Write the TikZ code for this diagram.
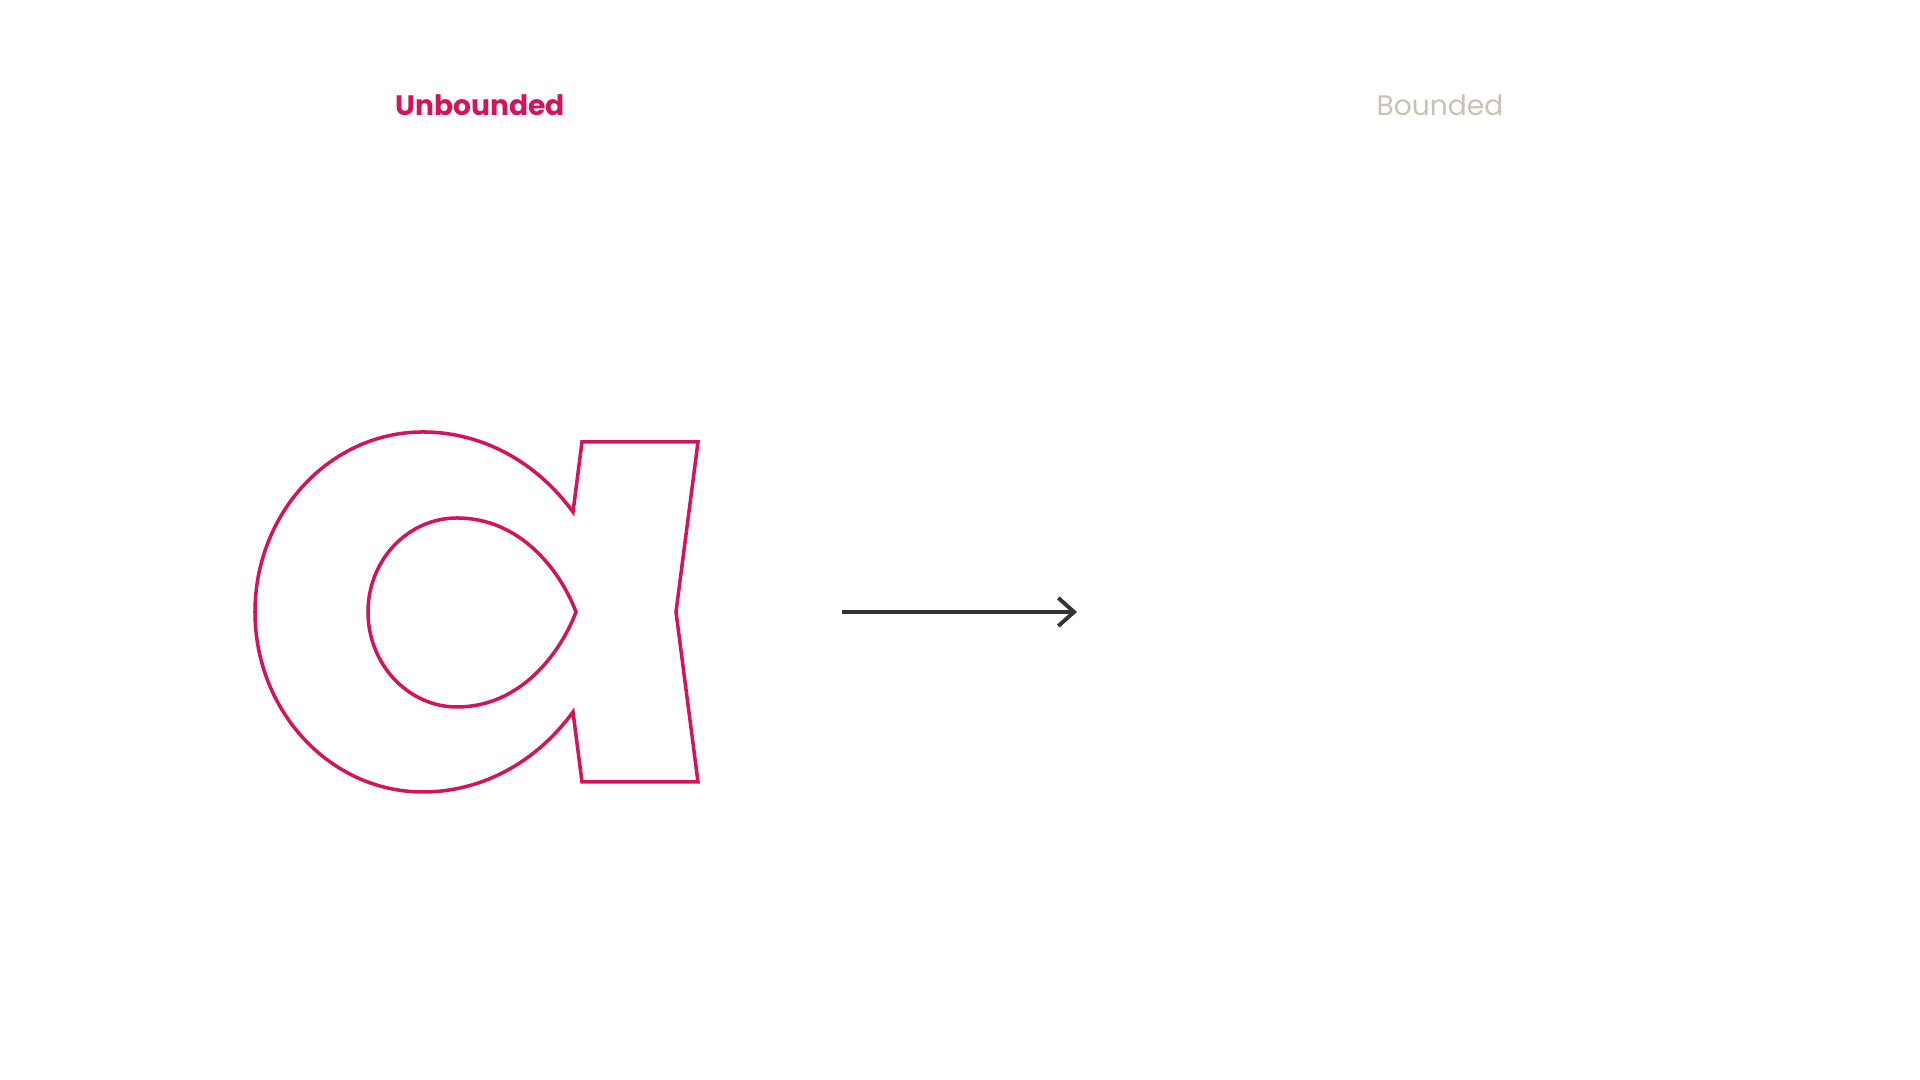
\documentclass[tikz,border=0pt]{standalone}
\usepackage{fontspec}
\setmainfont{Poppins}
\usepackage{xcolor}
\usetikzlibrary{arrows.meta,positioning}
\definecolor{crimson}{HTML}{D3145C}
\definecolor{sand}{HTML}{C9C1B2}
\definecolor{ink}{HTML}{333333}

\begin{document}
\begin{tikzpicture}[x=0.01cm, y=0.01cm, every node/.style={font=\fontsize{8}{10}\selectfont}]
\useasboundingbox (0,0) rectangle (1920,1080);
\node[text=crimson, font=\fontsize{8}{10}\selectfont\bfseries] (unb) at (480,975) {Unbounded};
\node[text=sand] (bnd) at (1440,975) {Bounded};
\draw[crimson, line width=1pt] (573,568) .. controls (535,620) and (480,648) .. (423,648)
  .. controls (330,648) and (255,567) .. (255,468)
  .. controls (255,369) and (330,288) .. (423,288)
  .. controls (480,288) and (535,316) .. (573,368)
  -- (582,298) -- (698,298) -- (676,468) -- (698,638) -- (582,638) -- cycle;
\draw[crimson, line width=1pt] (576,468) .. controls (560,510) and (520,562) .. (457,562)
  .. controls (408,562) and (368,520) .. (368,468)
  .. controls (368,416) and (408,373) .. (457,373)
  .. controls (520,373) and (560,426) .. cycle;
\coordinate (src) at (842,468);
\coordinate (dst) at (1077,468);
\draw[-{Straight Barb[length=4.5pt, width=8pt]}, ink, line width=1.1pt] (src) -- (dst);
\end{tikzpicture}
\end{document}
